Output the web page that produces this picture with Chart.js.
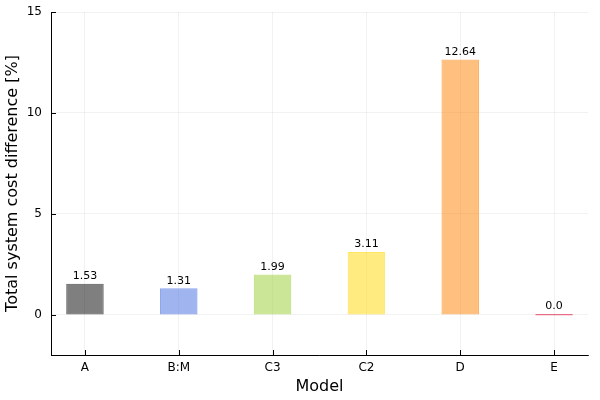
<!DOCTYPE html>
<html>
<head>
<meta charset="utf-8">
<script src="https://cdn.jsdelivr.net/npm/chart.js@4"></script>
<style>
  body { margin: 0; background: #fff; }
  #wrap { width: 600px; height: 400px; }
</style>
</head>
<body>
<div id="wrap"><canvas id="Canvasnya"></canvas></div>
<script>
var models = ["A", "B:M", "C3", "C2", "D", "E"];
var costDiff = [1.53, 1.31, 1.99, 3.11, 12.64, 0.0];
var valueLabels = ["1.53", "1.31", "1.99", "3.11", "12.64", "0.0"];
var yTicks = [0, 5, 10, 15];

var fills = [
    'rgba(0, 0, 0, 0.5)',
    'rgba(65, 105, 225, 0.5)',
    'rgba(154, 205, 50, 0.5)',
    'rgba(255, 215, 0, 0.5)',
    'rgba(255, 127, 0, 0.5)',
    'rgba(220, 20, 60, 0.5)'
];
var borders = [
    'rgba(0, 0, 0, 0.6)',
    'rgba(65, 105, 225, 0.6)',
    'rgba(154, 205, 50, 0.6)',
    'rgba(255, 215, 0, 0.6)',
    'rgba(255, 127, 0, 0.6)',
    'rgba(220, 20, 60, 0.6)'
];

var font = "'DejaVu Sans', sans-serif";

// value text above each bar + inward tick marks
var extras = {
    id: 'extras',
    afterDatasetsDraw: function (chart) {
        var ctx = chart.ctx;
        var meta = chart.getDatasetMeta(0);
        ctx.save();
        ctx.fillStyle = '#000';
        ctx.font = '11px ' + font;
        ctx.textAlign = 'center';
        ctx.textBaseline = 'bottom';
        meta.data.forEach(function (bar, i) {
            ctx.fillText(valueLabels[i], bar.x, Math.min(bar.y, bar.base) - 2);
        });
        var xs = chart.scales.x, ys = chart.scales.y;
        ctx.strokeStyle = '#000';
        ctx.lineWidth = 1;
        ctx.beginPath();
        yTicks.forEach(function (v) {
            var py = Math.round(ys.getPixelForValue(v)) + 0.5;
            ctx.moveTo(xs.left, py);
            ctx.lineTo(xs.left + 5, py);
        });
        models.forEach(function (m, i) {
            var px = Math.round(xs.getPixelForValue(i)) + 0.5;
            ctx.moveTo(px, ys.bottom);
            ctx.lineTo(px, ys.bottom - 5);
        });
        ctx.stroke();
        ctx.restore();
    }
};

var myChart = new Chart(document.getElementById("Canvasnya").getContext('2d'), {
    type: 'bar',
    data: {
        datasets: [{
            label: 'cost',
            data: costDiff.map(function (v, i) { return { x: i, y: v }; }),
            backgroundColor: fills,
            borderColor: borders,
            borderWidth: 1,
            borderSkipped: false,
            minBarLength: 1.5,
            barPercentage: 0.4,
            categoryPercentage: 1.0
        }]
    },
    options: {
        responsive: true,
        maintainAspectRatio: false,
        animation: false,
        layout: { padding: { top: 12, right: 12, left: 0, bottom: 0 } },
        plugins: {
            legend: { display: false },
            tooltip: { enabled: false }
        },
        scales: {
            x: {
                type: 'linear',
                offset: false,
                min: -0.362,
                max: 5.362,
                afterBuildTicks: function (scale) {
                    scale.ticks = models.map(function (m, i) { return { value: i }; });
                },
                afterFit: function (scale) {
                    scale.height = 45;
                    scale.paddingLeft = 0;
                    scale.paddingRight = 0;
                },
                ticks: {
                    padding: 6,
                    color: '#000',
                    font: { family: font, size: 12 },
                    callback: function (v) { return models[v]; },
                    maxRotation: 0
                },
                grid: { offset: false, color: 'rgba(0,0,0,0.1)', lineWidth: 0.5, drawTicks: false },
                border: { color: '#000', width: 1 },
                title: {
                    display: true,
                    text: 'Model',
                    color: '#000',
                    font: { family: font, size: 16 },
                    padding: { top: 2, bottom: 4 }
                }
            },
            y: {
                min: -2,
                max: 15,
                afterBuildTicks: function (scale) {
                    scale.ticks = yTicks.map(function (v) { return { value: v }; });
                },
                afterFit: function (scale) {
                    scale.width = 51;
                    scale.paddingTop = 0;
                    scale.paddingBottom = 0;
                },
                ticks: {
                    padding: 9,
                    color: '#000',
                    font: { family: font, size: 12 }
                },
                grid: { color: 'rgba(0,0,0,0.1)', lineWidth: 0.5, drawTicks: false },
                border: { color: '#000', width: 1 },
                title: {
                    display: true,
                    text: 'Total system cost difference [%]',
                    color: '#000',
                    font: { family: font, size: 16 },
                    padding: { top: 3, bottom: 0 }
                }
            }
        }
    },
    plugins: [extras]
});
</script>
</body>
</html>
